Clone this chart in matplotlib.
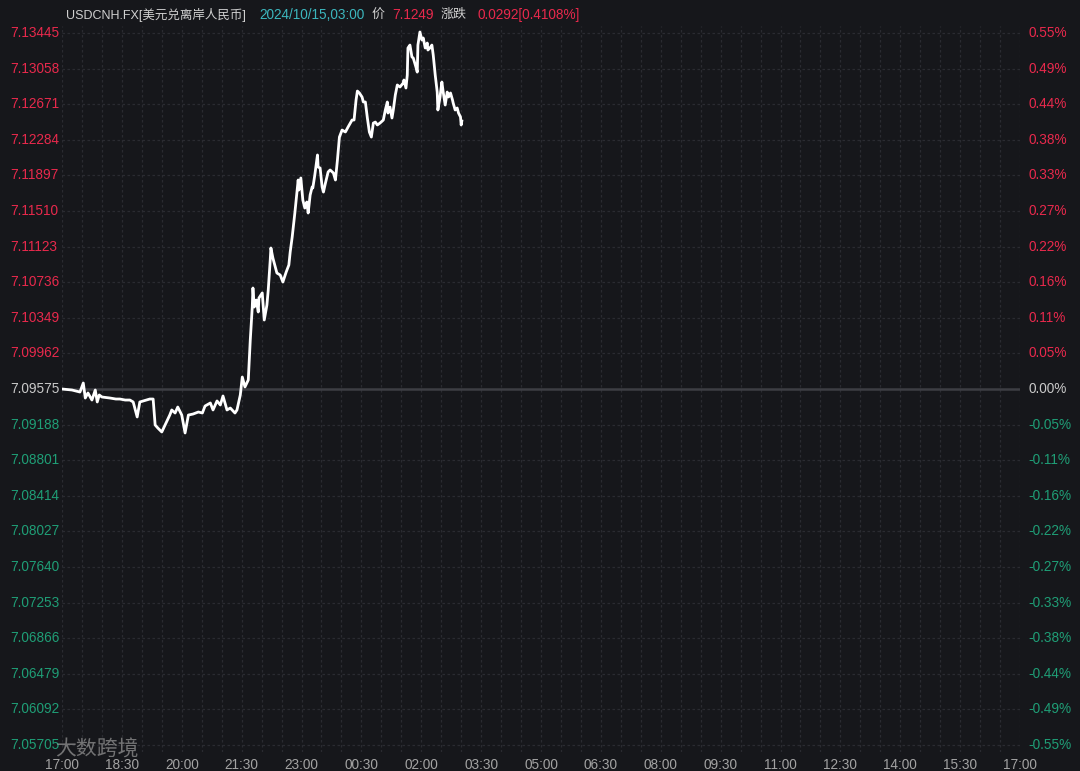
import matplotlib.pyplot as plt
from matplotlib.ticker import MultipleLocator

plt.rcParams['font.family'] = ['Liberation Sans', 'Noto Sans CJK SC', 'DejaVu Sans']

##### DATA #####
# minutes after 17:00 and USDCNH price
minutes = [0, 15, 27, 32, 35, 39, 45, 50, 53, 56, 60, 72, 81, 87, 95, 102, 107, 113, 117, 132,
           137, 140, 144, 150, 155, 162, 165, 170, 174, 180, 185, 190, 197, 205, 211, 215, 223, 227,
           233, 238, 242, 248, 253, 260, 263, 268, 271, 275, 280, 283, 286, 287, 289, 292, 295, 296,
           301, 304, 308, 310, 313, 314, 317, 319, 323, 328, 332, 337, 341, 343, 346, 350, 355, 356,
           359, 362, 365, 368, 370, 373, 376, 377, 380, 384, 385, 388, 391, 393, 396, 400, 403, 408,
           411, 414, 417, 421, 426, 430, 436, 439, 442, 444, 447, 451, 453, 456, 459, 462, 465, 468,
           471, 474, 478, 483, 486, 489, 490, 493, 496, 498, 501, 504, 508, 513, 514, 517, 519, 520,
           523, 526, 528, 532, 534, 535, 538, 541, 543, 546, 549, 550, 553, 556, 558, 561, 564, 565,
           568, 571, 573, 576, 579, 581, 584, 587, 588, 591, 594, 596, 599, 600, 601]
prices = [7.09575, 7.09564, 7.09542, 7.09640, 7.09477, 7.09532, 7.09455, 7.09564, 7.09434, 7.09510,
          7.09488, 7.09477, 7.09466, 7.09466, 7.09455, 7.09455, 7.09434, 7.09271, 7.09434, 7.09466,
          7.09466, 7.09184, 7.09151, 7.09108, 7.09184, 7.09292, 7.09347, 7.09314, 7.09379, 7.09292,
          7.09097, 7.09292, 7.09303, 7.09325, 7.09314, 7.09390, 7.09423, 7.09347, 7.09445, 7.09401,
          7.09499, 7.09347, 7.09368, 7.09314, 7.09347, 7.09510, 7.09705, 7.09597, 7.09673, 7.10108,
          7.10466, 7.10673, 7.10466, 7.10542, 7.10412, 7.10564, 7.10619, 7.10325, 7.10488, 7.10651,
          7.10977, 7.11108, 7.10999, 7.10945, 7.10836, 7.10814, 7.10738, 7.10847, 7.10923, 7.11064,
          7.11227, 7.11488, 7.11847, 7.11738, 7.11869, 7.11629, 7.11542, 7.11608, 7.11488, 7.11684,
          7.11771, 7.11760, 7.11901, 7.12119, 7.11988, 7.11977, 7.11771, 7.11716, 7.11814, 7.11934,
          7.11956, 7.11923, 7.11847, 7.12064, 7.12314, 7.12390, 7.12369, 7.12423, 7.12499, 7.12499,
          7.12716, 7.12814, 7.12793, 7.12749, 7.12695, 7.12695, 7.12521, 7.12369, 7.12314, 7.12466,
          7.12477, 7.12445, 7.12466, 7.12499, 7.12608, 7.12695, 7.12575, 7.12640, 7.12521, 7.12608,
          7.12771, 7.12880, 7.12858, 7.12902, 7.12934, 7.12847, 7.12988, 7.13282, 7.13314, 7.13184,
          7.13173, 7.13075, 7.13020, 7.13314, 7.13456, 7.13369, 7.13391, 7.13282, 7.13336, 7.13260,
          7.13282, 7.13314, 7.13206, 7.12988, 7.12803, 7.12608, 7.12738, 7.12912, 7.12803, 7.12662,
          7.12803, 7.12749, 7.12793, 7.12716, 7.12684, 7.12608, 7.12630, 7.12575, 7.12532, 7.12445,
          7.12488]

PREV_CLOSE = 7.09575
price_ticks = ['7.05705', '7.06092', '7.06479', '7.06866', '7.07253', '7.07640', '7.08027',
               '7.08414', '7.08801', '7.09188', '7.09575', '7.09962', '7.10349', '7.10736',
               '7.11123', '7.11510', '7.11897', '7.12284', '7.12671', '7.13058', '7.13445']
pct_ticks = ['-0.55%', '-0.49%', '-0.44%', '-0.38%', '-0.33%', '-0.27%', '-0.22%', '-0.16%',
             '-0.11%', '-0.05%', '0.00%', '0.05%', '0.11%', '0.16%', '0.22%', '0.27%', '0.33%',
             '0.38%', '0.44%', '0.49%', '0.55%']
time_labels = ['17:00', '18:30', '20:00', '21:30', '23:00', '00:30', '02:00', '03:30', '05:00',
               '06:30', '08:00', '09:30', '11:00', '12:30', '14:00', '15:30', '17:00']

##### STYLE #####
BG = '#16171b'
GRID = '#2a2b31'
RED = '#e8294c'
GREEN = '#1f9e76'
NEUTRAL = '#c9c9c9'
AXIS_TXT = '#a3a3a3'

fig = plt.figure(figsize=(10.8, 7.71), dpi=100, facecolor=BG)
ax = fig.add_axes([62 / 1080, 1 - 752 / 771, 958 / 1080, 726 / 771], facecolor=BG)

tick_vals = [float(t) for t in price_ticks]
step = tick_vals[1] - tick_vals[0]
ax.set_ylim(tick_vals[0] - step * 7 / 35.6, tick_vals[-1] + step * 7 / 35.6)
ax.set_xlim(0, 1440)

# grid
for v in tick_vals:
    if abs(v - PREV_CLOSE) < 1e-6:
        ax.axhline(v, color='#3d3e44', lw=1.8, zorder=1)
    else:
        ax.axhline(v, color=GRID, lw=0.9, ls=(0, (2, 2)), zorder=1)
ax.xaxis.set_minor_locator(MultipleLocator(30))
ax.grid(axis='x', which='both', color=GRID, lw=0.9, ls=(0, (2, 2)))
ax.set_axisbelow(True)

ax.plot(minutes, prices, color='white', lw=2.0, zorder=3, solid_joinstyle='round')

# x ticks
ax.set_xticks(range(0, 1441, 90))
ax.set_xticklabels(time_labels, color=AXIS_TXT, fontsize=9.8)
ax.tick_params(axis='x', which='both', length=0, pad=4)
ax.set_yticks([])
for s in ax.spines.values():
    s.set_visible(False)

# y labels, left price / right percent
ytr = ax.get_yaxis_transform()
for v, pl, cl in zip(tick_vals, price_ticks, pct_ticks):
    if v > PREV_CLOSE + 1e-6:
        c = RED
    elif v < PREV_CLOSE - 1e-6:
        c = GREEN
    else:
        c = NEUTRAL
    ax.text(-52 / 958, v, pl, transform=ytr, color=c, fontsize=9.8, ha='left', va='center',
            clip_on=False)
    ax.text(1.0085, v, cl, transform=ytr, color=c, fontsize=9.8, ha='left', va='center',
            clip_on=False)

# header
hy = 1 - 15 / 771
fig.text(66 / 1080, hy, 'USDCNH.FX[美元兑离岸人民币]', color='#d0d0d0', fontsize=9.0, va='center')
fig.text(259 / 1080, hy, '2024/10/15,03:00', color='#3cb6bd', fontsize=9.8, va='center')
fig.text(372 / 1080, hy, '价', color='#d0d0d0', fontsize=9.4, va='center')
fig.text(392 / 1080, hy, '7.1249', color=RED, fontsize=9.8, va='center')
fig.text(441 / 1080, hy, '涨跌', color='#d0d0d0', fontsize=9.4, va='center')
fig.text(477 / 1080, hy, '0.0292[0.4108%]', color=RED, fontsize=9.8, va='center')

# watermark
fig.text(55 / 1080, 1 - 750 / 771, '大数跨境', color='#9a9a9a', alpha=0.7, fontsize=15,
         va='center')

fig.savefig('out.png', dpi=100, facecolor=BG)
